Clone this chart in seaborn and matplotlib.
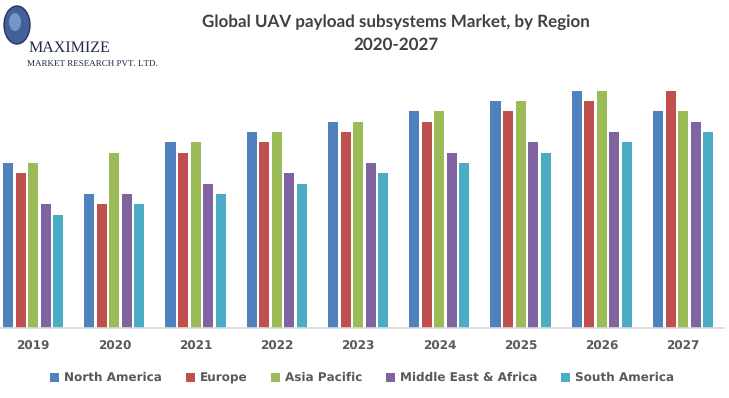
import matplotlib
matplotlib.use("Agg")
import matplotlib.pyplot as plt
import seaborn as sns
import pandas as pd
from matplotlib.patches import Ellipse, Patch

years = ["2019", "2020", "2021", "2022", "2023", "2024", "2025", "2026", "2027"]
regions = ["North America", "Europe", "Asia Pacific", "Middle East & Africa", "South America"]
north_america = [16, 13, 18, 19, 20, 21, 22, 23, 21]
europe = [15, 12, 17, 18, 19, 20, 21, 22, 23]
asia_pacific = [16, 17, 18, 19, 20, 21, 22, 23, 21]
middle_east_africa = [12, 13, 14, 15, 16, 17, 18, 19, 20]
south_america = [11, 12, 13, 14, 15, 16, 17, 18, 19]
colors = ["#4F81BD", "#C0504D", "#9BBB59", "#8064A2", "#4BACC6"]

series = [north_america, europe, asia_pacific, middle_east_africa, south_america]
rows = []
for reg, vals in zip(regions, series):
    for y, v in zip(years, vals):
        rows.append({"Year": y, "Region": reg, "Value": v})
df = pd.DataFrame(rows)

sns.set_theme(style="white")
plt.rcParams["text.hinting"] = "no_hinting"
plt.rcParams["text.hinting_factor"] = 1
W, H = 729, 398
fig = plt.figure(figsize=(W / 100, H / 100), dpi=100)

base_y = 328.3
unit = 10.33
ymax = 25
top_y = base_y - ymax * unit
left_px = 33 - 40.6
width_px = 9 * 81.25
ax = fig.add_axes([left_px / W, 1 - base_y / H, width_px / W, (base_y - top_y) / H])

sns.barplot(data=df, x="Year", y="Value", hue="Region", order=years, hue_order=regions,
            palette=colors, width=0.77, gap=0.2, saturation=1, ax=ax, legend=False,
            linewidth=0)
ax.set_xlim(-0.5, 8.5)
ax.set_ylim(0, ymax)
ax.set_xlabel("")
ax.set_ylabel("")
ax.set_yticks([])
for s in ["top", "right", "left"]:
    ax.spines[s].set_visible(False)
ax.spines["bottom"].set_color("#d9d9d9")
ax.spines["bottom"].set_linewidth(1.2)
ax.tick_params(axis="x", length=0, pad=9)
for lbl in ax.get_xticklabels():
    lbl.set_fontfamily("DejaVu Sans")
    lbl.set_fontweight("bold")
    lbl.set_fontsize(8.3)
    lbl.set_color("#595959")

# Legend
handles = [Patch(facecolor=c, edgecolor="none") for c in colors]
leg = fig.legend(handles, regions, loc="center", bbox_to_anchor=(362 / W, 1 - 378 / H),
                 ncol=5, frameon=False, handlelength=0.75, handleheight=0.75,
                 handletextpad=0.4, columnspacing=2.0,
                 prop={"family": "DejaVu Sans", "weight": "bold", "size": 8.6})
for t in leg.get_texts():
    t.set_color("#595959")

# Title
fig.text(396 / W, 1 - 22 / H, "Global UAV payload subsystems Market, by Region",
         ha="center", va="center", fontfamily="Lato", fontweight="bold", fontsize=12.5,
         color="#404040")
fig.text(396 / W, 1 - 45 / H, "2020-2027", ha="center", va="center",
         fontfamily="Lato", fontweight="bold", fontsize=12.5, color="#404040")

# Logo
fig.patches.append(Ellipse((17 / W, 1 - 25 / H), 26 / W, 38 / H, transform=fig.transFigure,
                           facecolor="#2f4f8f", edgecolor="#1a2a5a", lw=1, alpha=0.9))
fig.patches.append(Ellipse((15 / W, 1 - 22 / H), 12 / W, 18 / H, transform=fig.transFigure,
                           facecolor="#7fa6d8", edgecolor="none", alpha=0.8))
fig.text(29 / W, 1 - 48 / H, "MAXIMIZE", ha="left", va="center", fontfamily="Liberation Serif",
         fontsize=11.2, color="#1f2a4a")
fig.text(27 / W, 1 - 65 / H, "MARKET RESEARCH PVT. LTD.", ha="left", va="center",
         fontfamily="Liberation Serif", fontsize=6.2, color="#1f2a4a")

fig.savefig("out.png", dpi=100)
